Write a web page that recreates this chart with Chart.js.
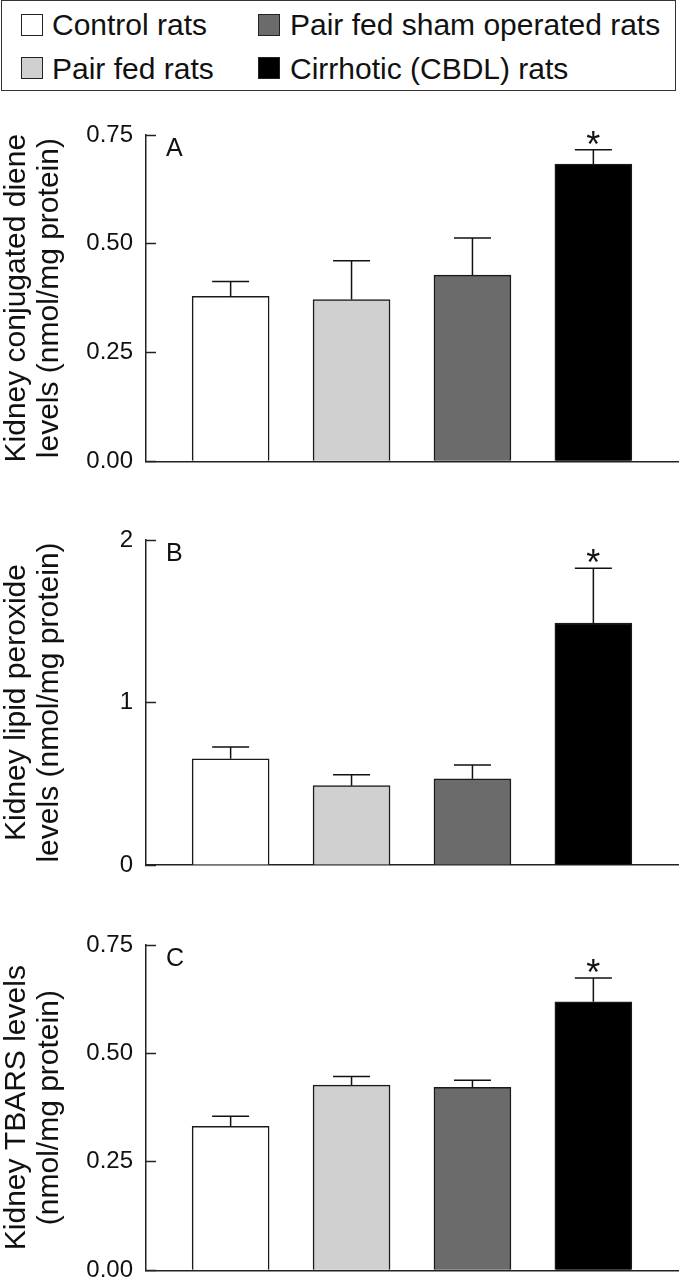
<!DOCTYPE html>
<html>
<head>
<meta charset="utf-8">
<script src="https://cdn.jsdelivr.net/npm/chart.js@4/dist/chart.umd.min.js"></script>
<style>
  html, body { margin: 0; padding: 0; background: #fff; }
  body { width: 679px; height: 1280px; overflow: hidden; position: relative; font-family: "Liberation Sans", Arial, sans-serif; color: #111; }
  #legend { position: absolute; left: 1px; top: 0; width: 673px; height: 89px; border: 1.5px solid #333; }
  .item { position: absolute; height: 34px; line-height: 34px; font-size: 30px; white-space: nowrap; }
  .sw { position: absolute; width: 20px; height: 20px; border: 1.5px solid #222; }
  .panel { position: absolute; left: 0; }
</style>
</head>
<body>
<div id="legend"></div>
<div class="panel" style="top:100px"><canvas id="chartA" width="679" height="390"></canvas></div>
<div class="panel" style="top:505px"><canvas id="chartB" width="679" height="390"></canvas></div>
<div class="panel" style="top:910px"><canvas id="chartC" width="679" height="390"></canvas></div>
<script>
// Grupos (ordem das barras)
var categories = ['Control rats', 'Pair fed rats', 'Pair fed sham operated rats', 'Cirrhotic (CBDL) rats'];
var barColors = ['#ffffff', '#d0d0d0', '#6b6b6b', '#000000'];

// A - dienos conjugados
var dieneMeans = [0.379, 0.372, 0.428, 0.683];
var dieneSem = [0.034, 0.089, 0.085, 0.033];
var dieneTicks = [0, 0.25, 0.5, 0.75];

// B - peróxidos lipídicos
var peroxideMeans = [0.654, 0.488, 0.531, 1.489];
var peroxideSem = [0.072, 0.068, 0.084, 0.337];
var peroxideTicks = [0, 1, 2];

// C - TBARS
var tbarsMeans = [0.332, 0.427, 0.422, 0.619];
var tbarsSem = [0.023, 0.020, 0.016, 0.055];
var tbarsTicks = [0, 0.25, 0.5, 0.75];

// marcas de significância
var significance = ['', '', '', '*'];

var FONT = '"Liberation Sans", Arial, sans-serif';
Chart.defaults.font.family = FONT;
Chart.defaults.color = '#111';

// Legenda em HTML (2 colunas)
var legend = document.getElementById('legend');
categories.forEach(function (name, i) {
  var col = Math.floor(i / 2), row = i % 2;
  var sw = document.createElement('div');
  sw.className = 'sw';
  sw.style.left = (col === 0 ? 19 : 256) + 'px';
  sw.style.top = (row === 0 ? 13 : 56) + 'px';
  sw.style.background = barColors[i];
  legend.appendChild(sw);
  var t = document.createElement('div');
  t.className = 'item';
  t.style.left = (col === 0 ? 50 : 288) + 'px';
  t.style.top = (row === 0 ? 7 : 51) + 'px';
  t.textContent = name;
  legend.appendChild(t);
});

// Plugin de barras de erro, asterisco e letra do painel
function panelPlugin(means, sem, letter) {
  return {
    id: 'panel' + letter,
    afterDatasetsDraw: function (chart) {
      var ctx = chart.ctx;
      var y = chart.scales.y;
      var meta = chart.getDatasetMeta(0);
      ctx.save();
      ctx.strokeStyle = '#111';
      ctx.lineWidth = 1.5;
      ctx.fillStyle = '#111';
      meta.data.forEach(function (bar, i) {
        var yBar = y.getPixelForValue(means[i]);
        var yTop = y.getPixelForValue(means[i] + sem[i]);
        ctx.beginPath();
        ctx.moveTo(bar.x, yBar);
        ctx.lineTo(bar.x, yTop);
        ctx.moveTo(bar.x - 18.5, yTop);
        ctx.lineTo(bar.x + 18.5, yTop);
        ctx.stroke();
        if (significance[i]) {
          ctx.font = '36px ' + FONT;
          ctx.textAlign = 'center';
          ctx.textBaseline = 'alphabetic';
          ctx.fillText(significance[i], bar.x, yTop - 14 + 21);
        }
      });
      ctx.font = '25px ' + FONT;
      ctx.textAlign = 'left';
      ctx.textBaseline = 'top';
      ctx.fillText(letter, chart.chartArea.left + 20, chart.chartArea.top + 2);
      ctx.restore();
    }
  };
}

function makeChart(id, means, sem, ticks, decimals, title, letter, padBottom) {
  var ctx = document.getElementById(id).getContext('2d');
  return new Chart(ctx, {
    type: 'bar',
    data: {
      labels: categories,
      datasets: [{
        data: means.map(function (v, i) { return { x: i, y: v }; }),
        backgroundColor: barColors,
        borderColor: '#1a1a1a',
        borderWidth: 1.5,
        barThickness: 77
      }]
    },
    options: {
      responsive: false,
      animation: false,
      layout: { padding: { top: 35, bottom: padBottom, left: 0, right: 1 } },
      plugins: { legend: { display: false }, tooltip: { enabled: false } },
      scales: {
        x: {
          type: 'linear',
          offset: false,
          min: -0.7,
          max: 3.7,
          ticks: { display: false },
          grid: { drawOnChartArea: false, drawTicks: false },
          border: { color: '#222', width: 1.5 }
        },
        y: {
          min: ticks[0],
          max: ticks[ticks.length - 1],
          afterFit: function (s) { s.width = 146; s.paddingTop = 0; s.paddingBottom = 0; },
          afterBuildTicks: function (s) { s.ticks = ticks.map(function (v) { return { value: v }; }); },
          ticks: {
            padding: 23,
            color: '#111',
            font: { size: 24 },
            callback: function (v) { return Number(v).toFixed(decimals); }
          },
          grid: { drawOnChartArea: false, tickLength: -10, tickWidth: 1.5, tickColor: '#222' },
          border: { color: '#222', width: 1.5 },
          title: {
            display: true,
            text: title,
            color: '#111',
            font: { size: 30, lineHeight: 1.1 },
            padding: 0
          }
        }
      }
    },
    plugins: [panelPlugin(means, sem, letter)]
  });
}

makeChart('chartA', dieneMeans, dieneSem, dieneTicks, 2,
  ['Kidney conjugated diene', 'levels (nmol/mg protein)'], 'A', 28.7);
makeChart('chartB', peroxideMeans, peroxideSem, peroxideTicks, 0,
  ['Kidney lipid peroxide', 'levels (nmol/mg protein)'], 'B', 30);
makeChart('chartC', tbarsMeans, tbarsSem, tbarsTicks, 2,
  ['Kidney TBARS levels', '(nmol/mg protein)'], 'C', 29.7);
</script>
</body>
</html>
